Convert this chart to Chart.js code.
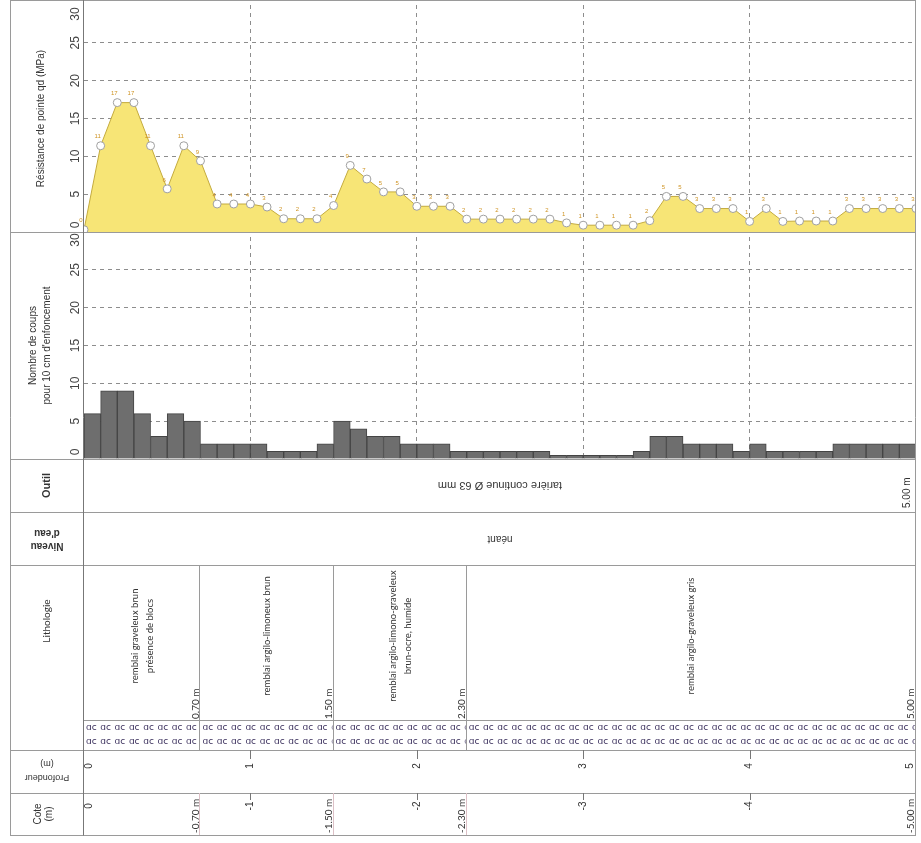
<!DOCTYPE html>
<html>
<head>
<meta charset="utf-8">
<script src="https://cdn.jsdelivr.net/npm/chart.js@4.4.1/dist/chart.umd.min.js"></script>
<style>
  body { margin: 0; background: #fff; }
  canvas { display: block; }
</style>
</head>
<body>
<canvas id="log" width="921" height="843"></canvas>
<script>
// profondeur des mesures (m)
const depths = [0, 0.1, 0.2, 0.3, 0.4, 0.5, 0.6, 0.7, 0.8, 0.9,
  1.0, 1.1, 1.2, 1.3, 1.4, 1.5, 1.6, 1.7, 1.8, 1.9,
  2.0, 2.1, 2.2, 2.3, 2.4, 2.5, 2.6, 2.7, 2.8, 2.9,
  3.0, 3.1, 3.2, 3.3, 3.4, 3.5, 3.6, 3.7, 3.8, 3.9,
  4.0, 4.1, 4.2, 4.3, 4.4, 4.5, 4.6, 4.7, 4.8, 4.9, 5.0];
// résistance de pointe qd (MPa)
const qd = [0.3, 11.4, 17.1, 17.1, 11.4, 5.7, 11.4, 9.4, 3.7, 3.7,
  3.7, 3.3, 1.75, 1.75, 1.75, 3.5, 8.8, 7.0, 5.3, 5.3,
  3.4, 3.4, 3.4, 1.7, 1.7, 1.7, 1.7, 1.7, 1.7, 1.2,
  0.9, 0.9, 0.9, 0.9, 1.5, 4.7, 4.7, 3.1, 3.1, 3.1,
  1.4, 3.1, 1.4, 1.45, 1.45, 1.45, 3.1, 3.1, 3.1, 3.1, 3.1];
// nombre de coups pour 10 cm
const blows = [6, 9, 9, 6, 3, 6, 5, 2, 2, 2,
  2, 1, 1, 1, 2, 5, 4, 3, 3, 2,
  2, 2, 1, 1, 1, 1, 1, 1, 0.5, 0.5,
  0.5, 0.5, 0.5, 1, 3, 3, 2, 2, 2, 1,
  2, 1, 1, 1, 1, 2, 2, 2, 2, 2];

const valueTicks = [0, 5, 10, 15, 20, 25, 30];
const depthTicks = ["0", "1", "2", "3", "4", "5"];
const coteTicks = ["0", "-1", "-2", "-3", "-4"];

const layerTop = [0, 0.7, 1.5, 2.3];
const layerBase = [0.7, 1.5, 2.3, 5.0];
const layerBaseLabel = ["0.70 m", "1.50 m", "2.30 m", "5.00 m"];
const layerCoteLabel = ["-0.70 m", "-1.50 m", "-2.30 m", "-5.00 m"];
const layerText = [
  ["remblai graveleux brun", "présence de blocs"],
  ["remblai argilo-limoneux brun"],
  ["remblai argilo-limono-graveleux", "brun-ocre, humide"],
  ["remblai argilo-graveleux gris"]
];
const toolText = "tarière continue Ø 63 mm";
const toolBase = "5.00 m";
const waterText = "néant";

const qdPoints = depths.map((d, i) => ({ x: d, y: qd[i] }));
const blowBars = blows.map((b, i) => ({ x: (depths[i] + depths[i + 1]) / 2, y: b }));

const SANS = "'Liberation Sans', Arial, sans-serif";
const LINE = "#9a9a9a";

function txt(ctx, s, x, y, rot, align, font, color) {
  ctx.save();
  ctx.translate(x, y);
  ctx.rotate(rot);
  ctx.textAlign = align;
  ctx.textBaseline = "middle";
  ctx.font = font;
  ctx.fillStyle = color || "#333";
  ctx.fillText(s, 0, 0);
  ctx.restore();
}

function hline(ctx, x1, x2, y, color) {
  ctx.strokeStyle = color || LINE;
  ctx.beginPath();
  ctx.moveTo(x1, Math.round(y) + 0.5);
  ctx.lineTo(x2, Math.round(y) + 0.5);
  ctx.stroke();
}

function vline(ctx, x, y1, y2, color) {
  ctx.strokeStyle = color || LINE;
  ctx.beginPath();
  ctx.moveTo(Math.round(x) + 0.5, y1);
  ctx.lineTo(Math.round(x) + 0.5, y2);
  ctx.stroke();
}

const UP = -Math.PI / 2;
const FLIP = Math.PI;

const logTable = {
  id: "logTable",
  afterDraw(chart) {
    const { ctx, chartArea: a, scales } = chart;
    const x = scales.x, yq = scales.yq, yn = scales.yn;
    const L = 10, R = a.right;
    const rOutil = a.bottom, rEau = rOutil + 53, rLitho = rEau + 53;
    const rHatch = rLitho + 155, rProf = rLitho + 185, rCote = rProf + 43, B = rCote + 42;
    ctx.save();
    ctx.lineWidth = 1;

    // tick labels of both value axes
    valueTicks.forEach(v => {
      let p = yq.getPixelForValue(v);
      p = Math.min(Math.max(p, yq.top + 9), yq.bottom - 7);
      txt(ctx, String(v), 76, p, UP, "center", "12px " + SANS, "#444");
      let q = yn.getPixelForValue(v);
      q = Math.min(Math.max(q, yn.top + 8), yn.bottom - 7);
      txt(ctx, String(v), 76, q, UP, "center", "12px " + SANS, "#444");
    });
    txt(ctx, "Résistance de pointe qd (MPa)", 41, (yq.top + yq.bottom) / 2, UP, "center", "10px " + SANS, "#333");
    txt(ctx, "Nombre de coups", 33, (yn.top + yn.bottom) / 2, UP, "center", "10px " + SANS, "#333");
    txt(ctx, "pour 10 cm d'enfoncement", 47, (yn.top + yn.bottom) / 2, UP, "center", "10px " + SANS, "#333");

    // tiny value labels next to the qd points
    const meta = chart.getDatasetMeta(0);
    meta.data.forEach((pt, i) => {
      txt(ctx, String(Math.round(qd[i])), pt.x - 3, pt.y - 9, 0, "center", "6px " + SANS, "#cf9424");
    });

    // frame and rows
    hline(ctx, L, R, 0);
    hline(ctx, L, R, yq.bottom);
    [rOutil, rEau, rLitho, rProf, rCote, B].forEach(y => hline(ctx, L, R, y));
    hline(ctx, a.left, R, rHatch);
    vline(ctx, L, 0, B + 0.5);
    vline(ctx, R - 1, 0, B + 0.5);
    vline(ctx, a.left - 1, 0, B + 0.5, "#777");

    // Outil
    txt(ctx, "Outil", 47, (rOutil + rEau) / 2, UP, "center", "bold 11px " + SANS, "#333");
    txt(ctx, toolText, (a.left + R) / 2, (rOutil + rEau) / 2, FLIP, "center", "11px " + SANS, "#333");
    txt(ctx, toolBase, R - 9, rEau - 4, UP, "left", "10px " + SANS, "#333");

    // Niveau d'eau
    txt(ctx, "Niveau", 47, (rEau + rLitho) / 2 + 7, FLIP, "center", "bold 10px " + SANS, "#333");
    txt(ctx, "d'eau", 47, (rEau + rLitho) / 2 - 6, FLIP, "center", "bold 10px " + SANS, "#333");
    txt(ctx, waterText, (a.left + R) / 2, (rEau + rLitho) / 2, FLIP, "center", "10px " + SANS, "#333");

    // Lithologie
    txt(ctx, "Lithologie", 47, rLitho + 56, UP, "center", "10px Lato, " + SANS, "#333");
    layerTop.forEach((top, i) => {
      const x1 = x.getPixelForValue(top), x2 = x.getPixelForValue(layerBase[i]);
      if (i < layerTop.length - 1) {
        vline(ctx, x2 - 1, rLitho, rProf);
        vline(ctx, x2 - 1, rCote, B, "#dcc0c6");
      }
      const lines = layerText[i];
      const cx = (x1 + x2) / 2;
      lines.forEach((s, k) => {
        txt(ctx, s, cx + (k - (lines.length - 1) / 2) * 15, rLitho + 71, UP, "center", "9.5px Lato, " + SANS, "#333");
      });
      txt(ctx, layerBaseLabel[i], x2 - 5, rHatch - 1, UP, "left", "10px Lato, " + SANS, "#333");
      txt(ctx, layerCoteLabel[i], x2 - 5, B - 2, UP, "left", "10px Lato, " + SANS, "#333");
      // remblai pattern
      ctx.save();
      ctx.beginPath();
      ctx.rect(x1, rHatch + 1, x2 - x1 - 1, rProf - rHatch - 1);
      ctx.clip();
      ctx.font = "9px 'DejaVu Sans', sans-serif";
      ctx.fillStyle = "#3a2f5c";
      ctx.textBaseline = "middle";
      ctx.textAlign = "left";
      for (let sx = x1 + 2; sx < x2 - 2; sx += 14.3) {
        ctx.fillText("ɑc", sx, rHatch + 8);
        ctx.fillText("ɑc", sx, rHatch + 22);
      }
      ctx.restore();
    });

    // Profondeur
    txt(ctx, "Profondeur", 47, rProf + 27, FLIP, "center", "9px " + SANS, "#333");
    txt(ctx, "(m)", 47, rProf + 13, FLIP, "center", "9px " + SANS, "#333");
    depthTicks.forEach((s, i) => {
      let px = x.getPixelForValue(i);
      if (i > 0 && i < depthTicks.length - 1) vline(ctx, px, rProf, rProf + 9, "#777");
      px = Math.min(Math.max(px, a.left + 5), R - 6);
      txt(ctx, s, px, rProf + 16, UP, "center", "10px " + SANS, "#333");
    });

    // Cote
    txt(ctx, "Cote", 38, (rCote + B) / 2, UP, "center", "10px " + SANS, "#333");
    txt(ctx, "(m)", 49, (rCote + B) / 2, UP, "center", "10px " + SANS, "#333");
    coteTicks.forEach((s, i) => {
      let px = x.getPixelForValue(i);
      if (i > 0) vline(ctx, px, rCote, rCote + 7, "#777");
      px = Math.max(px, a.left + 5);
      txt(ctx, s, px, rCote + 13, UP, "center", "10px " + SANS, "#333");
    });

    ctx.restore();
  }
};

const gridColor = ends => c => (ends.includes(c.tick.value) ? "rgba(0,0,0,0)" : "#8d8d8d");

new Chart(document.getElementById("log"), {
  type: "line",
  data: {
    datasets: [
      {
        type: "line",
        data: qdPoints,
        xAxisID: "x",
        yAxisID: "yq",
        fill: "origin",
        backgroundColor: "#f7e576",
        borderColor: "#c4ab3e",
        borderWidth: 1,
        tension: 0,
        pointRadius: 4,
        pointBackgroundColor: "#ffffff",
        pointBorderColor: "#a0a0a0",
        pointBorderWidth: 1
      },
      {
        type: "bar",
        data: blowBars,
        xAxisID: "x",
        yAxisID: "yn",
        backgroundColor: "#6e6e6e",
        borderColor: "#444444",
        borderWidth: 1,
        barPercentage: 1,
        categoryPercentage: 1,
        grouped: false
      }
    ]
  },
  options: {
    responsive: false,
    animation: false,
    layout: { padding: { left: 10, right: 4, top: 1, bottom: 384 } },
    plugins: { legend: { display: false }, tooltip: { enabled: false } },
    scales: {
      x: {
        type: "linear",
        min: 0,
        max: 5,
        offset: false,
        ticks: { display: false, stepSize: 1 },
        grid: { color: gridColor([0, 5]), drawTicks: false, offset: false },
        border: { display: false, dash: [4, 4] },
        afterFit: s => { s.height = 0; }
      },
      yq: {
        type: "linear",
        position: "left",
        stack: "log",
        stackWeight: 1,
        weight: 2,
        min: 0,
        max: 30,
        ticks: { display: false, stepSize: 5 },
        grid: { color: gridColor([0, 30]), drawTicks: false },
        border: { display: false, dash: [4, 4] },
        afterFit: s => { s.width = 74; }
      },
      yn: {
        type: "linear",
        position: "left",
        stack: "log",
        stackWeight: 1,
        weight: 1,
        min: 0,
        max: 30,
        ticks: { display: false, stepSize: 5 },
        grid: { color: gridColor([0, 30]), drawTicks: false },
        border: { display: false, dash: [4, 4] },
        afterFit: s => { s.width = 74; }
      }
    }
  },
  plugins: [logTable]
});
</script>
</body>
</html>
